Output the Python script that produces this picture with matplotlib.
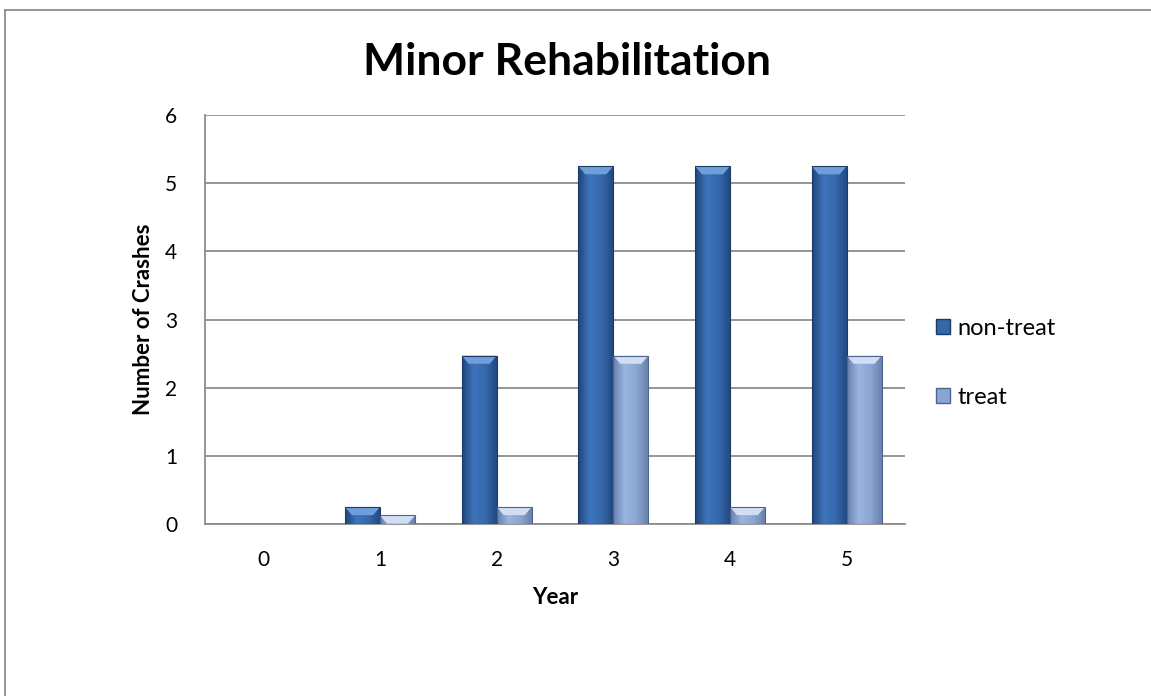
import matplotlib
matplotlib.use("Agg")
import matplotlib.pyplot as plt
import numpy as np
from matplotlib.patches import Polygon, Patch, Rectangle
from matplotlib.colors import LinearSegmentedColormap

# data
years = ["0", "1", "2", "3", "4", "5"]
non_treat = [0, 0.25, 2.47, 5.25, 5.25, 5.25]
treat = [0, 0.125, 0.25, 2.47, 0.25, 2.47]

plt.rcParams['font.family'] = ['Lato', 'DejaVu Sans']

fig = plt.figure(figsize=(11.51, 6.96), dpi=100)
ax = fig.add_axes([205 / 1151, 1 - 524 / 696, 700 / 1151, 409 / 696])

x = np.arange(len(years))
w = 0.3
b1 = ax.bar(x - w / 2, non_treat, w, color="#3566A8", label="non-treat", zorder=3)
b2 = ax.bar(x + w / 2, treat, w, color="#8AA5D3", label="treat", zorder=3)

styles = [
    (b1, ["#21457A", "#3D74BC", "#3669AD", "#234A82"], "#6F9FDB", "#1B3A66"),
    (b2, ["#6881AE", "#9AB4E0", "#8DA7D4", "#6A83AD"], "#D0DEF3", "#4E6490"),
]
bev_y = 0.12
bev_x = 0.06
for bars, body, top, edge in styles:
    cmap = LinearSegmentedColormap.from_list("b", body)
    for p in bars:
        bx, by = p.get_x(), p.get_y()
        bw, bh = p.get_width(), p.get_height()
        if bh <= 0:
            continue
        p.set_facecolor("none")
        grad = np.linspace(0, 1, 64).reshape(1, -1)
        im = ax.imshow(grad, cmap=cmap, aspect="auto",
                       extent=[bx, bx + bw, by, by + bh], zorder=3)
        clip = Rectangle((bx, by), bw, bh, transform=ax.transData)
        im.set_clip_path(clip)
        d = min(bev_y, bh)
        dx = min(bev_x, bw / 2)
        tri = Polygon([[bx, by + bh], [bx + bw, by + bh],
                       [bx + bw - dx, by + bh - d], [bx + dx, by + bh - d]],
                      closed=True, facecolor=top, edgecolor="none", zorder=4)
        ax.add_patch(tri)
        ax.add_patch(Rectangle((bx, by), bw, bh, facecolor="none",
                               edgecolor=edge, lw=0.8, zorder=5))

ax.set_xlim(-0.5, 5.5)
ax.set_ylim(0, 6)
ax.set_yticks(range(7))
ax.set_xticks(x)
ax.set_xticklabels(years)
ax.yaxis.grid(True, color="#8C8C8C", lw=1.3, zorder=0)
ax.set_axisbelow(True)
for s in ["top", "right"]:
    ax.spines[s].set_visible(False)
for s in ["left", "bottom"]:
    ax.spines[s].set_color("#8C8C8C")
    ax.spines[s].set_linewidth(1.3)
ax.tick_params(axis="both", length=0, labelsize=15, colors="black")
ax.tick_params(axis="y", pad=20)
ax.tick_params(axis="x", pad=19)

ax.set_xlabel("Year", fontsize=16, fontweight="bold", labelpad=12)
ax.set_ylabel("Number of Crashes", fontsize=16, fontweight="bold", labelpad=8)

fig.text(567 / 1151, 1 - 62 / 696, "Minor Rehabilitation", fontsize=32,
         fontweight="bold", ha="center", va="center")

handles = [Patch(facecolor="#3566A8", edgecolor="#1B3A66"),
           Patch(facecolor="#8AA5D3", edgecolor="#4E6490")]
fig.legend(handles, ["non-treat", "treat"], loc="center left",
           bbox_to_anchor=(936 / 1151, 1 - 363 / 696), frameon=False,
           borderaxespad=0, borderpad=0,
           fontsize=17, handlelength=0.6, handleheight=0.6,
           handletextpad=0.3, labelspacing=2.05)

# outer chart border (only the left and top edges fall inside the image)
fig.add_artist(plt.Line2D([5 / 1151, 5 / 1151], [0, 1 - 10 / 696],
                          transform=fig.transFigure, color="#8C8C8C", lw=1.3))
fig.add_artist(plt.Line2D([5 / 1151, 1], [1 - 10 / 696, 1 - 10 / 696],
                          transform=fig.transFigure, color="#8C8C8C", lw=1.3))

fig.savefig("out.png", dpi=100)
